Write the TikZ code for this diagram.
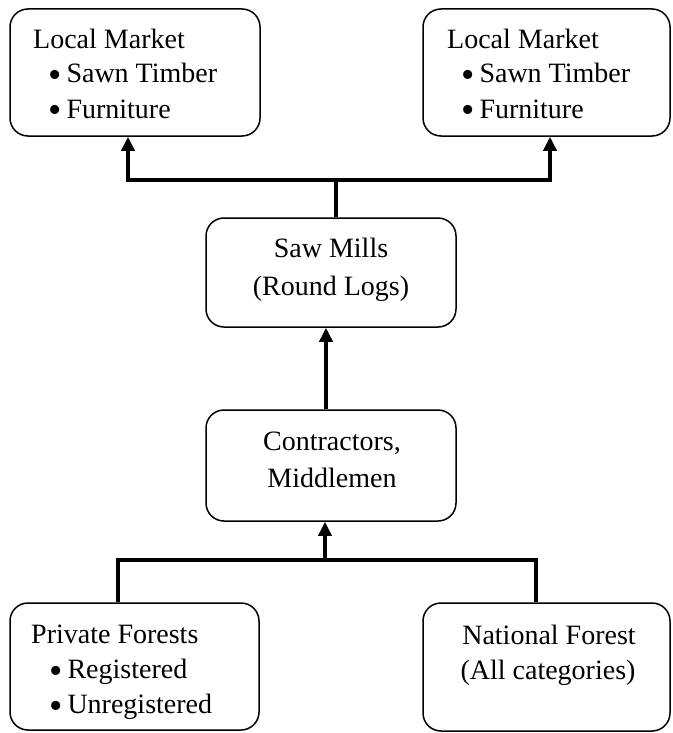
\documentclass[tikz,border=0pt]{standalone}
\usepackage{fontspec}
\setmainfont{Liberation Serif}
\usetikzlibrary{arrows.meta,calc}
\newcommand{\bigbul}{\smash{\raisebox{-5pt}{\fontsize{38}{38}\selectfont •}}\hspace{5pt}}
\begin{document}
\begin{tikzpicture}[x=1pt,y=-1pt,
  box/.style={draw,line width=1.5pt,rounded corners=18pt,inner sep=0pt},
  txt/.style={inner sep=0pt,font=\fontsize{28}{34}\selectfont},
  lt/.style={txt,anchor=base west},
  ct/.style={txt,anchor=base},
  conn/.style={line width=4.5pt},
  arr/.style={conn,-{Triangle[width=13pt,length=14pt]}}]
\useasboundingbox (0,0) rectangle (672,733);
% boxes
\node[box,minimum width=250pt,minimum height=127pt] (lm1) at (135,72.5) {};
\node[box,minimum width=247pt,minimum height=127pt] (lm2) at (546.5,72.5) {};
\node[box,minimum width=250pt,minimum height=109pt] (saw) at (331,272.5) {};
\node[box,minimum width=250pt,minimum height=111pt] (con) at (331,465.5) {};
\node[box,minimum width=249pt,minimum height=127pt] (pf) at (134.5,666.5) {};
\node[box,minimum width=247pt,minimum height=128pt] (nf) at (546.5,667) {};
% texts
\node[lt] (lm1a) at (33,49) {Local Market};
\node[lt] (lm1b) at (48,83) {\bigbul Sawn Timber};
\node[lt] (lm1c) at (48,118) {\bigbul Furniture};
\node[lt] (lm2a) at (447,49) {Local Market};
\node[lt] (lm2b) at (461,83) {\bigbul Sawn Timber};
\node[lt] (lm2c) at (461,118) {\bigbul Furniture};
\node[ct] (sawa) at (331,257) {Saw Mills};
\node[ct] (sawb) at (331,295) {(Round Logs)};
\node[ct] (cona) at (332,450) {Contractors,};
\node[ct] (conb) at (332,487) {Middlemen};
\node[lt] (pfa) at (31,643) {Private Forests};
\node[lt] (pfb) at (49,678) {\bigbul Registered};
\node[lt] (pfc) at (49,713) {\bigbul Unregistered};
\node[ct] (nfa) at (549,644) {National Forest};
\node[ct] (nfb) at (548,679) {(All categories)};
% connectors
\coordinate (j1) at (336,180);
\coordinate (t1) at (128,180);
\coordinate (t2) at (550,180);
\draw[conn] (saw.north -| j1) -- (j1);
\draw[arr] (j1) -- (t1) -- (t1 |- lm1.south);
\draw[arr] (j1) -- (t2) -- (t2 |- lm2.south);
\coordinate (m1) at (326,0);
\draw[arr] (con.north -| m1) -- (saw.south -| m1);
\coordinate (j2) at (325,560);
\coordinate (b1) at (118,560);
\coordinate (b2) at (536,560);
\draw[conn] (pf.north -| b1) -- (b1) -- (b2) -- (nf.north -| b2);
\draw[arr] (j2) -- (con.south -| j2);
\end{tikzpicture}
\end{document}
